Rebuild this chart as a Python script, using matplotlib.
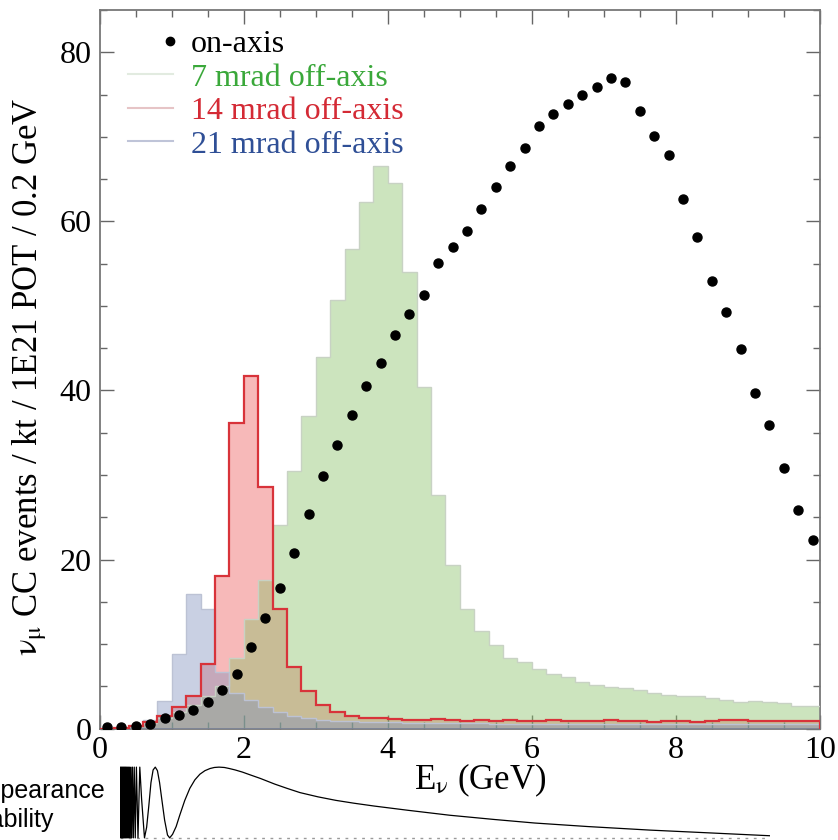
import numpy as np
import matplotlib
matplotlib.use("Agg")
import matplotlib.pyplot as plt
from matplotlib.lines import Line2D
from matplotlib.legend_handler import HandlerLine2D
from matplotlib.ticker import MultipleLocator

# 0.2 GeV energy bins from 0 to 10 GeV
bin_edges = np.round(np.arange(0.0, 10.01, 0.2), 1)
bin_centers = 0.5 * (bin_edges[:-1] + bin_edges[1:])

# on-axis flux (points), events per bin
on_axis = [0.2, 0.2, 0.3, 0.6, 1.2, 1.6, 2.2, 3.1, 4.6, 6.5,
           9.6, 13.1, 16.6, 20.8, 25.4, 29.9, 33.6, 37.1, 40.5, 43.3,
           46.5, 49.0, 51.3, 55.1, 57.0, 58.9, 61.5, 64.1, 66.5, 68.7,
           71.3, 72.7, 73.9, 75.0, 75.9, 77.0, 76.5, 73.0, 70.1, 67.9,
           62.6, 58.2, 53.0, 49.3, 44.9, 39.7, 35.9, 30.8, 25.8, 22.3]

# 7 mrad off-axis
off_7 = [0.0, 0.1, 0.3, 0.7, 1.3, 2.0, 2.8, 3.8, 5.0, 8.3,
         13.0, 17.6, 24.1, 30.5, 37.0, 44.0, 50.7, 56.7, 62.3, 66.6,
         64.5, 54.0, 40.4, 27.6, 19.3, 14.2, 11.6, 9.9, 8.4, 7.9,
         7.1, 6.5, 6.1, 5.5, 5.1, 4.9, 4.8, 4.6, 4.2, 4.0,
         3.85, 3.8, 3.6, 3.4, 3.2, 3.3, 3.1, 3.0, 2.7, 2.7]

# 14 mrad off-axis
off_14 = [0.0, 0.1, 0.3, 0.8, 1.5, 2.5, 3.9, 7.6, 18.0, 36.2,
          41.7, 28.6, 14.2, 7.3, 4.4, 2.8, 2.0, 1.5, 1.3, 1.2,
          1.1, 1.0, 1.0, 1.1, 1.0, 0.9, 1.0, 0.9, 1.0, 0.9,
          0.9, 1.0, 0.9, 0.9, 0.9, 1.0, 0.9, 0.9, 0.8, 0.9,
          0.9, 0.8, 0.9, 1.0, 1.0, 0.9, 0.9, 0.9, 0.9, 0.9]

# 21 mrad off-axis
off_21 = [0.0, 0.1, 0.4, 1.0, 3.3, 8.8, 15.9, 14.2, 6.7, 4.2,
          3.4, 2.6, 2.0, 1.5, 1.2, 1.0, 0.9, 0.9, 0.8, 0.8,
          0.8, 0.7, 0.7, 0.7, 0.7, 0.7, 0.7, 0.6, 0.6, 0.6,
          0.6, 0.6, 0.6, 0.6, 0.6, 0.6, 0.6, 0.6, 0.6, 0.6,
          0.6, 0.6, 0.6, 0.6, 0.6, 0.6, 0.6, 0.6, 0.6, 0.6]

labels = ["on-axis", "7 mrad off-axis", "14 mrad off-axis", "21 mrad off-axis"]
label_colors = ["black", "#3aa83a", "#d42a35", "#2f4f96"]

# appearance probability vs energy (small panel under the axis)
prob_E = [0.0, 0.006, 0.012, 0.018, 0.024, 0.030, 0.036, 0.042, 0.048, 0.054,
          0.060, 0.066, 0.072, 0.078, 0.084, 0.090, 0.097, 0.104, 0.111, 0.118,
          0.126, 0.134, 0.143, 0.152, 0.162, 0.173, 0.185, 0.198, 0.212, 0.228,
          0.250, 0.275, 0.30, 0.34, 0.37, 0.40, 0.43, 0.46, 0.49, 0.52,
          0.55, 0.58, 0.62, 0.66, 0.69, 0.73, 0.78, 0.83, 0.90, 0.97,
          1.04, 1.11, 1.18, 1.25, 1.31, 1.375, 1.45, 1.52, 1.60, 1.70,
          1.81, 1.95, 2.15, 2.32, 2.5, 2.75, 3.0, 3.25, 3.53, 4.0,
          4.58, 5.2, 5.76, 6.5, 7.36, 8.2, 9.03]
prob_P = [0.5, 1.0, 0.0, 1.0, 0.0, 1.0, 0.0, 1.0, 0.0, 1.0,
          0.0, 1.0, 0.0, 1.0, 0.0, 1.0, 0.0, 1.0, 0.0, 1.0,
          0.0, 1.0, 0.0, 1.0, 0.0, 1.0, 0.0, 1.0, 0.0, 1.0,
          0.0, 1.0, 0.55, 0.0, 0.15, 0.45, 0.78, 0.96, 1.0, 0.95,
          0.78, 0.55, 0.25, 0.04, 0.0, 0.05, 0.16, 0.32, 0.53, 0.70,
          0.82, 0.90, 0.95, 0.98, 0.995, 1.0, 0.995, 0.98, 0.96, 0.93,
          0.89, 0.84, 0.76, 0.70, 0.64, 0.58, 0.53, 0.49, 0.45, 0.39,
          0.32, 0.26, 0.21, 0.16, 0.11, 0.07, 0.03]


class EndMarkerHandler(HandlerLine2D):
    """Draw the single legend marker near the right end of the handle."""

    def get_xdata(self, legend, xdescent, ydescent, width, height, fontsize):
        x0 = -xdescent + 0.9 * width
        x1 = -xdescent + width
        return [x0, x1], [0.5 * (x0 + x1)]


plt.rcParams["font.family"] = ["Liberation Serif", "DejaVu Serif"]
plt.rcParams["mathtext.fontset"] = "stix"

W, H = 838, 840
fig = plt.figure(figsize=(W / 100, H / 100), dpi=100)
ax = fig.add_axes([99.7 / W, 1 - 728.6 / H, 720 / W, 718.6 / H])

red_fill = (0.92, 0.32, 0.32, 0.40)
green_fill = (0.55, 0.76, 0.42, 0.44)
blue_fill = (0.50, 0.57, 0.74, 0.42)

ax.stairs(off_14, bin_edges, fill=True, facecolor=red_fill, edgecolor="none", zorder=1)
ax.stairs(off_7, bin_edges, fill=True, facecolor=green_fill, edgecolor="none", zorder=2)
ax.stairs(off_21, bin_edges, fill=True, facecolor=blue_fill, edgecolor="none", zorder=3)
ax.stairs(off_7, bin_edges, color="#c8d2c4", lw=1.0, zorder=4)
ax.stairs(off_21, bin_edges, color="#bcc2d4", lw=1.0, zorder=4)
ax.stairs(off_14, bin_edges, color="#d8333a", lw=1.6, zorder=5)
ax.plot(bin_centers, on_axis, "o", color="black", ms=6.5, zorder=6)

ax.set_xlim(0, 10)
ax.set_ylim(0, 85)
ax.set_xticks([0, 2, 4, 6, 8, 10])
ax.set_yticks([0, 20, 40, 60, 80])
ax.xaxis.set_minor_locator(MultipleLocator(0.5))
ax.yaxis.set_minor_locator(MultipleLocator(5))
ax.tick_params(which="both", direction="in", top=True, right=True,
               color="#666666", width=1.0, labelsize=23)
ax.tick_params(which="major", length=10)
ax.tick_params(which="minor", length=5)
ax.tick_params(axis="x", pad=5)
ax.tick_params(axis="y", pad=6)
for sp in ax.spines.values():
    sp.set_color("#777777")
    sp.set_linewidth(1.3)

ax.set_xlabel(r"E$_{\mathrm{\nu}}$ (GeV)", fontsize=25)
ax.xaxis.set_label_coords(0.528, -0.046)
ax.set_ylabel(r"$\mathrm{\nu}_{\mathrm{\mu}}$ CC events / kt / 1E21 POT / 0.2 GeV",
              fontsize=25)
ax.yaxis.set_label_coords(-0.07, 0.49)

handles = [
    Line2D([], [], ls="none", marker="o", color="black", ms=6),
    Line2D([], [], color="#e2ebe0", lw=1.5),
    Line2D([], [], color="#e6c4c6", lw=1.5),
    Line2D([], [], color="#bfc4d8", lw=1.5),
]
leg = ax.legend(handles, labels, loc="upper left", bbox_to_anchor=(0.039, 0.9725),
                frameon=False, fontsize=23, handlelength=1.4, handletextpad=0.58,
                labelspacing=0.13, borderpad=0, borderaxespad=0,
                handler_map={handles[0]: EndMarkerHandler()})
for txt, col in zip(leg.get_texts(), label_colors):
    txt.set_color(col)

# appearance probability strip below the main axes
ins = fig.add_axes([120 / W, 0, 650 / W, 75 / H])
ins.set_xlim(0, 9.03)
ins.set_ylim(-0.03, 1.03)
ins.axis("off")
ins.axhline(0, color="#9a9a9a", lw=1.0, ls=(0, (2, 4)))
ins.plot(prob_E, prob_P, color="black", lw=0.9)

fig.text(106 / W, 1 - 798 / H, "Appearance", ha="right", va="baseline",
         fontsize=18, family=["Liberation Sans", "DejaVu Sans"])
fig.text(53 / W, 1 - 827 / H, "Probability", ha="right", va="baseline",
         fontsize=18, family=["Liberation Sans", "DejaVu Sans"])

fig.savefig("out.png", dpi=100)
